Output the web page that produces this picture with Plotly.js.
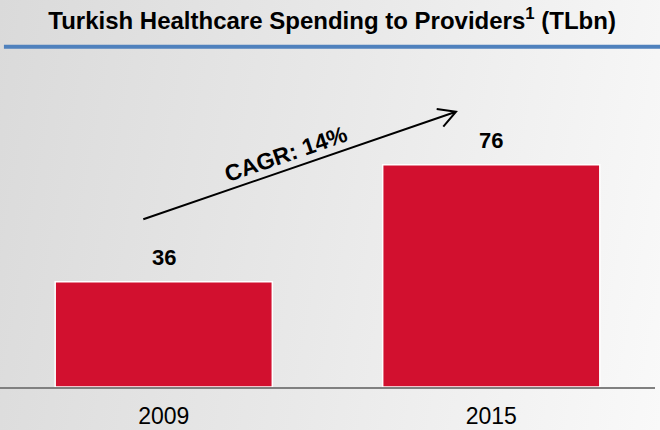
<!DOCTYPE html>
<html>
<head>
<meta charset="utf-8">
<script src="https://cdn.plot.ly/plotly-3.0.1.min.js"></script>
<style>
  html, body { margin: 0; padding: 0; }
  body { width: 660px; height: 430px; background: linear-gradient(100deg, #dadada 0%, #e9e9e9 50%, #f9f9f9 100%); }
  #chart { width: 660px; height: 430px; }
</style>
</head>
<body>
<div id="chart"></div>
<script>
const categories = ["2009", "2015"];
const spending = [36, 76];
const valueLabels = ["36", "76"];
const chartTitle = "Turkish Healthcare Spending to Providers<sup>1</sup> (TLbn)";
const cagrText = "CAGR: 14%";

const FONT = "Liberation Sans, Arial, sans-serif";

const trace = {
  type: "bar",
  x: categories,
  y: spending,
  marker: { color: "#d2102f", line: { color: "#ffffff", width: 1.5 } },
  hoverinfo: "none"
};

const labelAnnotations = categories.map((c, i) => ({
  x: i, y: spending[i], xref: "x", yref: "y",
  text: "<b>" + valueLabels[i] + "</b>",
  showarrow: false, yanchor: "bottom", yshift: 10,
  font: { family: FONT, size: 22, color: "#000000" }
}));

const layout = {
  width: 660, height: 430,
  margin: { l: 0, r: 5, t: 60, b: 43 },
  paper_bgcolor: "rgba(0,0,0,0)",
  plot_bgcolor: "rgba(0,0,0,0)",
  showlegend: false,
  bargap: 0.337,
  title: {
    text: "<b>" + chartTitle + "</b>",
    font: { family: FONT, size: 24, color: "#000000" },
    x: 0.507, xref: "paper", xanchor: "center",
    y: 0.953, yref: "container", yanchor: "middle"
  },
  xaxis: {
    type: "category", range: [-0.5, 1.5], fixedrange: true,
    showline: true, linecolor: "#808080", linewidth: 2,
    ticks: "", showgrid: false, zeroline: false, ticklabelstandoff: 7,
    tickfont: { family: FONT, size: 23, color: "#000000" }
  },
  yaxis: { range: [0, 111.8], visible: false, fixedrange: true },
  shapes: [
    { type: "line", xref: "paper", yref: "paper", x0: 0.006, x1: 1.01, y0: 1.0407, y1: 1.0407,
      line: { color: "#4f81bd", width: 4 } },
    { type: "path", xref: "paper", yref: "paper",
      path: "M0.2188,0.5128 L0.6962,0.8419 M0.6667,0.8502 L0.6962,0.8419 L0.6768,0.796",
      line: { color: "#000000", width: 2 } }
  ],
  annotations: labelAnnotations.concat([
    { xref: "paper", yref: "paper", x: 0.436, y: 0.712, text: "<b>" + cagrText + "</b>",
      showarrow: false, textangle: -19, xanchor: "center", yanchor: "middle",
      font: { family: FONT, size: 23, color: "#000000" } }
  ])
};

Plotly.newPlot("chart", [trace], layout, { displayModeBar: false, staticPlot: true });
</script>
</body>
</html>
